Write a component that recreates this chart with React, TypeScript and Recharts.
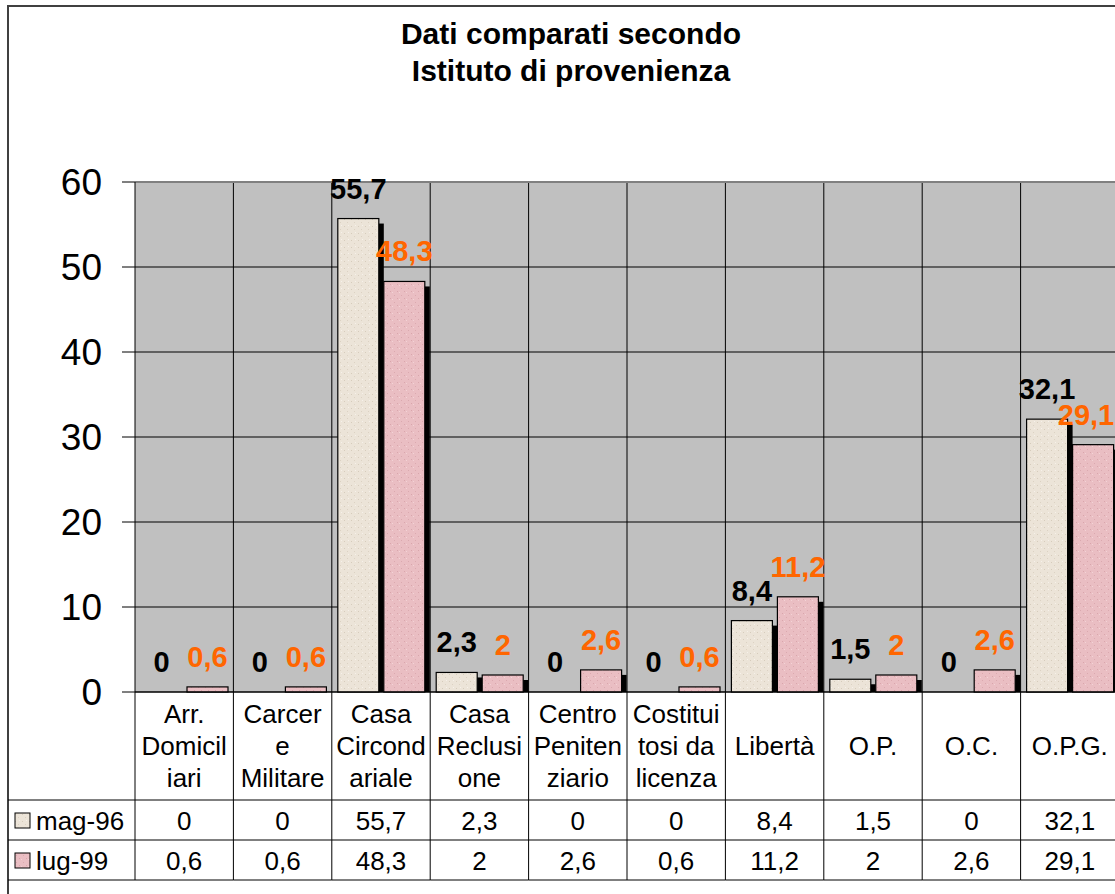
import React from 'react';
import { BarChart, Bar, XAxis, YAxis, CartesianGrid, LabelList, ReferenceLine } from 'recharts';

const categories = [
  'Arr. Domiciliari', 'Carcere Militare', 'Casa Circondariale', 'Casa Reclusione', 'Centro Penitenziario',
  'Costituitosi da licenza', 'Libertà', 'O.P.', 'O.C.', 'O.P.G.',
];
// wrapped the way the original table wraps them
const categoryLines = [
  ['Arr.', 'Domicil', 'iari'], ['Carcer', 'e', 'Militare'], ['Casa', 'Circond', 'ariale'], ['Casa', 'Reclusi', 'one'],
  ['Centro', 'Peniten', 'ziario'], ['Costitui', 'tosi da', 'licenza'], ['Libertà'], ['O.P.'], ['O.C.'], ['O.P.G.'],
];
const mag96 = [0, 0, 55.7, 2.3, 0, 0, 8.4, 1.5, 0, 32.1];
const lug99 = [0.6, 0.6, 48.3, 2, 2.6, 0.6, 11.2, 2, 2.6, 29.1];
const seriesNames = ['mag-96', 'lug-99'];
const yTicks = [0, 10, 20, 30, 40, 50, 60];

const data = categories.map((name, i) => ({ name, mag96: mag96[i], lug99: lug99[i] }));

const CHART_W = 1140;
const CHART_H = 894;
const PLOT_LEFT = 135;
const PLOT_RIGHT = 1119;
const PLOT_TOP = 182;
const PLOT_BOTTOM = 692;
const BAND = (PLOT_RIGHT - PLOT_LEFT) / categories.length;
const ROW1 = 800;
const ROW2 = 840;
const ROW3 = 880;
const ORANGE = '#ff6600';

const fmt = (v: number) => String(v).replace('.', ',');

const ShadowBar = (props: any) => {
  const { x, y, width, height, fill } = props;
  if (!height || height <= 0) return <g />;
  return (
    <g>
      <rect x={x + 5} y={y + 5} width={width} height={Math.max(0, height - 5)} fill="#000" />
      <rect x={x} y={y} width={width} height={height} fill={fill} stroke="#000" strokeWidth={1.2} />
    </g>
  );
};

const makeLabel = (color: string) => (props: any) => {
  const { x, y, width, value } = props;
  const txt = fmt(Number(value));
  const half = (txt.length - 0.5) * 16 / 2;
  const cx = Math.min(Number(x) + Number(width) / 2, 1114 - half);
  return (
    <text x={cx} y={Number(y) - 30} textAnchor="middle" dominantBaseline="central"
      fontSize={29} fontWeight="bold" fill={color}>
      {txt}
    </text>
  );
};

const TableTick = (props: any) => {
  const { x, payload, index } = props;
  const i = typeof index === 'number' ? index : payload.index;
  const left = x - BAND / 2;
  const right = x + BAND / 2;
  const lines = categoryLines[i] || [];
  const mid = 746;
  return (
    <g>
      <line x1={left} y1={PLOT_BOTTOM} x2={left} y2={ROW3} stroke="#000" />
      {i === categories.length - 1 && <line x1={right} y1={PLOT_BOTTOM} x2={right} y2={ROW3} stroke="#000" />}
      {[ROW1, ROW2, ROW3].map((ry) => (
        <line key={ry} x1={left} y1={ry} x2={right} y2={ry} stroke="#000" />
      ))}
      {lines.map((l, k) => (
        <text key={k} x={x} y={mid + (k - (lines.length - 1) / 2) * 32} textAnchor="middle"
          dominantBaseline="central" fontSize={26} fill="#000">{l}</text>
      ))}
      <text x={x} y={821} textAnchor="middle" dominantBaseline="central" fontSize={26} fill="#000">{fmt(mag96[i])}</text>
      <text x={x} y={861} textAnchor="middle" dominantBaseline="central" fontSize={26} fill="#000">{fmt(lug99[i])}</text>
      {i === 0 && (
        <g>
          {[ROW1, ROW2, ROW3].map((ry) => (
            <line key={ry} x1={8} y1={ry} x2={PLOT_LEFT} y2={ry} stroke="#000" />
          ))}
          <rect x={15} y={813} width={15} height={15} fill="url(#texBeige)" stroke="#000" />
          <text x={36} y={821} dominantBaseline="central" fontSize={26} fill="#000">{seriesNames[0]}</text>
          <rect x={15} y={853} width={15} height={15} fill="url(#texPink)" stroke="#000" />
          <text x={36} y={861} dominantBaseline="central" fontSize={26} fill="#000">{seriesNames[1]}</text>
        </g>
      )}
    </g>
  );
};

export default function App() {
  return (
    <div style={{
      position: 'fixed', left: 0, top: 0, width: 1115, height: 894, overflow: 'hidden', background: '#fff',
      fontFamily: '"Liberation Sans", Arial, sans-serif',
    }}>
      <div style={{
        position: 'absolute', left: 7, top: 5, width: 1140, height: 910, border: '2px solid #404040', boxSizing: 'border-box',
      }} />
      <div style={{
        position: 'absolute', left: 271, top: 15, width: 600, textAlign: 'center', fontSize: 30, fontWeight: 'bold',
        lineHeight: '37px', color: '#000',
      }}>
        Dati comparati secondo<br />Istituto di provenienza
      </div>
      <div style={{ position: 'absolute', left: 0, top: 0 }}>
        <BarChart width={CHART_W} height={CHART_H} data={data} barSize={41} barGap={5}
          margin={{ top: PLOT_TOP, right: CHART_W - PLOT_RIGHT, bottom: CHART_H - ROW3, left: PLOT_LEFT - 100 }}>
          <defs>
            <pattern id="texBeige" width={7} height={7} patternUnits="userSpaceOnUse">
              <rect width={7} height={7} fill="#ece4d8" />
              <rect x={1} y={2} width={1} height={1} fill="#d6ccbc" />
              <rect x={4} y={5} width={1} height={1} fill="#dcd2c3" />
              <rect x={5} y={1} width={1} height={1} fill="#f6f1ea" />
            </pattern>
            <pattern id="texPink" width={7} height={7} patternUnits="userSpaceOnUse">
              <rect width={7} height={7} fill="#eabec3" />
              <rect x={2} y={1} width={1} height={1} fill="#dba9af" />
              <rect x={5} y={4} width={1} height={1} fill="#d9a6ac" />
              <rect x={0} y={5} width={1} height={1} fill="#f3d3d6" />
            </pattern>
          </defs>
          <CartesianGrid stroke="#000" fill="#c0c0c0" fillOpacity={1}
            verticalCoordinatesGenerator={({ offset }: any) =>
              categories.slice(1).map((_, k) => offset.left + (k + 1) * offset.width / categories.length)} />
          <XAxis dataKey="name" height={ROW3 - PLOT_BOTTOM} interval={0} tickLine={false}
            axisLine={{ stroke: '#000' }} tick={(p: any) => <TableTick {...p} />} />
          <YAxis width={100} domain={[0, 60]} ticks={yTicks} interval={0} tickSize={13} tickMargin={20}
            axisLine={{ stroke: '#000' }} tickLine={{ stroke: '#000' }} tick={{ fontSize: 37, fill: '#000' }} />
          <ReferenceLine y={60} stroke="#808080" strokeWidth={2} />
          <Bar dataKey="mag96" name={seriesNames[0]} fill="url(#texBeige)" shape={ShadowBar} isAnimationActive={false}>
            <LabelList dataKey="mag96" content={makeLabel('#000')} />
          </Bar>
          <Bar dataKey="lug99" name={seriesNames[1]} fill="url(#texPink)" shape={ShadowBar} isAnimationActive={false}>
            <LabelList dataKey="lug99" content={makeLabel(ORANGE)} />
          </Bar>
        </BarChart>
      </div>
    </div>
  );
}
